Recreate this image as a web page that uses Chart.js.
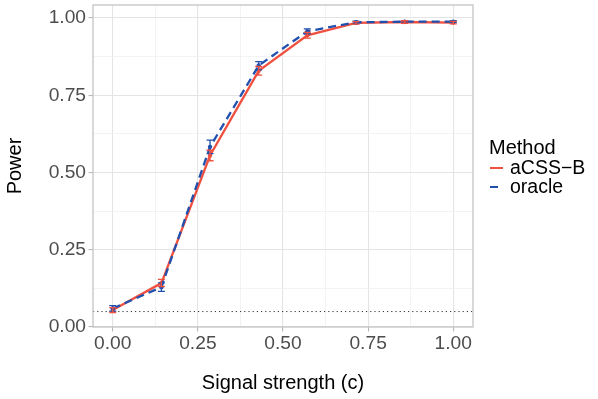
<!DOCTYPE html>
<html>
<head>
<meta charset="utf-8">
<script src="https://cdn.jsdelivr.net/npm/chart.js@4.4.1/dist/chart.umd.min.js"></script>
<style>
  html, body { margin: 0; padding: 0; background: #ffffff; }
  #wrap { position: relative; width: 598px; height: 399px; }
  canvas { position: absolute; left: 0; top: 0; }
  .lg { position: absolute; font-family: "Liberation Sans", Arial, sans-serif; color: #000; white-space: nowrap; line-height: 1; }
  .key { position: absolute; height: 2.3px; }
</style>
</head>
<body>
<div id="wrap">
  <canvas id="c" width="598" height="399"></canvas>
  <div class="lg" id="lgTitle" style="left:489px; top:137px; font-size:20px;">Method</div>
  <div class="key" style="left:490px; top:167px; width:13px; background:#F0503F;"></div>
  <div class="lg" style="left:510px; top:158px; font-size:19.5px;">aCSS−B</div>
  <div class="key" style="left:490px; top:186px; width:8px; background:#2150AE;"></div>
  <div class="lg" style="left:510px; top:177px; font-size:19.5px;">oracle</div>
</div>
<script>
// ---- data ----
const signalStrength = [0, 0.1429, 0.2857, 0.4286, 0.5714, 0.7143, 0.8571, 1];
const acssB      = [0.055, 0.142, 0.555, 0.829, 0.944, 0.984, 0.987, 0.985];
const acssBLow   = [0.047, 0.131, 0.538, 0.815, 0.935, 0.980, 0.983, 0.981];
const acssBHigh  = [0.063, 0.154, 0.572, 0.843, 0.953, 0.988, 0.991, 0.989];
const oracle     = [0.060, 0.129, 0.583, 0.846, 0.957, 0.986, 0.988, 0.988];
const oracleLow  = [0.051, 0.115, 0.561, 0.832, 0.949, 0.982, 0.985, 0.985];
const oracleHigh = [0.069, 0.143, 0.605, 0.859, 0.965, 0.990, 0.991, 0.991];
const xMajorTicks = [0, 0.25, 0.5, 0.75, 1];
const xMinorTicks = [0.125, 0.375, 0.625, 0.875];
const yMajorTicks = [0, 0.25, 0.5, 0.75, 1];
const yMinorTicks = [0.125, 0.375, 0.625, 0.875];
const referenceLevel = 0.05;
const seriesNames = ['aCSS−B', 'oracle'];

const RED = '#F0503F';
const BLUE = '#2150AE';
const FONT = '"Liberation Sans", Arial, sans-serif';

function pts(ys) { return signalStrength.map((x, i) => ({x: x, y: ys[i]})); }
function isMajor(v, list) { return list.some(t => Math.abs(t - v) < 1e-9); }
function buildTicks(major, minor) {
  return major.concat(minor).sort((a, b) => a - b).map(v => ({value: v}));
}
function zeroPad(s) { s.paddingTop = 0; s.paddingBottom = 0; s.paddingLeft = 0; s.paddingRight = 0; }

const errorBars = {
  id: 'errorBars',
  afterDatasetsDraw(chart) {
    const ctx = chart.ctx;
    const xs = chart.scales.x, ys = chart.scales.y;
    chart.data.datasets.slice().reverse().forEach(ds => {
      ctx.save();
      ctx.strokeStyle = ds.borderColor;
      ctx.lineWidth = 1.3;
      ctx.setLineDash([]);
      signalStrength.forEach((x, i) => {
        const px = xs.getPixelForValue(x);
        const lo = ys.getPixelForValue(ds.errLow[i]);
        const hi = ys.getPixelForValue(ds.errHigh[i]);
        ctx.beginPath();
        ctx.moveTo(px, lo); ctx.lineTo(px, hi);
        ctx.moveTo(px - 3.5, lo); ctx.lineTo(px + 3.5, lo);
        ctx.moveTo(px - 3.5, hi); ctx.lineTo(px + 3.5, hi);
        ctx.stroke();
      });
      ctx.restore();
    });
  }
};

const refLine = {
  id: 'refLine',
  beforeDatasetsDraw(chart) {
    const ctx = chart.ctx, a = chart.chartArea;
    const py = chart.scales.y.getPixelForValue(referenceLevel);
    ctx.save();
    ctx.strokeStyle = '#333333';
    ctx.lineWidth = 1;
    ctx.setLineDash([1.2, 3]);
    ctx.beginPath();
    ctx.moveTo(a.left, py); ctx.lineTo(a.right, py);
    ctx.stroke();
    ctx.restore();
  }
};

const panelBorder = {
  id: 'panelBorder',
  afterDraw(chart) {
    const ctx = chart.ctx, a = chart.chartArea;
    ctx.save();
    ctx.strokeStyle = '#C4C4C4';
    ctx.lineWidth = 1.3;
    ctx.strokeRect(a.left, a.top, a.right - a.left, a.bottom - a.top);
    ctx.restore();
  }
};

new Chart(document.getElementById('c'), {
  type: 'line',
  data: {
    datasets: [
      {
        label: seriesNames[0], data: pts(acssB), errLow: acssBLow, errHigh: acssBHigh,
        borderColor: RED, backgroundColor: RED, borderWidth: 2.3,
        pointRadius: 2.2, pointBorderWidth: 0, pointBackgroundColor: RED,
        tension: 0, order: 1
      },
      {
        label: seriesNames[1], data: pts(oracle), errLow: oracleLow, errHigh: oracleHigh,
        borderColor: BLUE, backgroundColor: BLUE, borderWidth: 2.3, borderDash: [8, 5],
        pointRadius: 2.2, pointBorderWidth: 0, pointBackgroundColor: BLUE,
        tension: 0, order: 0
      }
    ]
  },
  options: {
    responsive: false,
    animation: false,
    devicePixelRatio: 1,
    layout: { padding: { left: 0, right: 125, top: 5, bottom: 0 } },
    plugins: { legend: { display: false }, tooltip: { enabled: false } },
    scales: {
      x: {
        type: 'linear', min: -0.058, max: 1.058,
        afterBuildTicks: s => { s.ticks = buildTicks(xMajorTicks, xMinorTicks); },
        afterFit: s => { s.height = 72; zeroPad(s); },
        ticks: {
          font: { family: FONT, size: 19.2 }, color: '#4D4D4D', padding: 1, maxRotation: 0, autoSkip: false,
          callback: v => isMajor(v, xMajorTicks) ? v.toFixed(2) : ''
        },
        grid: {
          color: c => isMajor(c.tick.value, xMajorTicks) ? '#E4E4E4' : '#F0F0F0',
          lineWidth: c => isMajor(c.tick.value, xMajorTicks) ? 1.1 : 0.8,
          tickColor: c => isMajor(c.tick.value, xMajorTicks) ? '#B8B8B8' : 'rgba(0,0,0,0)',
          tickLength: 4.5, tickWidth: 1.1
        },
        border: { display: false },
        title: {
          display: true, text: 'Signal strength (c)', color: '#000',
          font: { family: FONT, size: 20, lineHeight: 1.2 }, padding: { top: 0, bottom: 4 }
        }
      },
      y: {
        type: 'linear', min: 0, max: 1.042,
        afterBuildTicks: s => { s.ticks = buildTicks(yMajorTicks, yMinorTicks); },
        afterFit: s => { s.width = 93; zeroPad(s); },
        ticks: {
          font: { family: FONT, size: 19.2 }, color: '#4D4D4D', padding: 2.5, autoSkip: false,
          callback: v => isMajor(v, yMajorTicks) ? v.toFixed(2) : ''
        },
        grid: {
          color: c => isMajor(c.tick.value, yMajorTicks) ? '#E4E4E4' : '#F0F0F0',
          lineWidth: c => isMajor(c.tick.value, yMajorTicks) ? 1.1 : 0.8,
          tickColor: c => isMajor(c.tick.value, yMajorTicks) ? '#B8B8B8' : 'rgba(0,0,0,0)',
          tickLength: 4.5, tickWidth: 1.1
        },
        border: { display: false },
        title: {
          display: true, text: 'Power', color: '#000',
          font: { family: FONT, size: 20, lineHeight: 1.2 }, padding: { top: 3, bottom: 0 }
        }
      }
    }
  },
  plugins: [refLine, errorBars, panelBorder]
});
</script>
</body>
</html>
